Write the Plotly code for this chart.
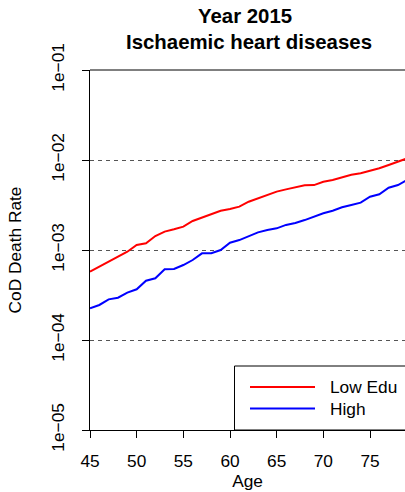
import plotly.graph_objects as go

ages = list(range(45, 80))
low_edu = [5.74e-4, 6.52e-4, 7.41e-4, 8.58e-4, 9.57e-4, 1.137e-3, 1.186e-3, 1.43e-3, 1.60e-3, 1.70e-3,
           1.82e-3, 2.10e-3, 2.29e-3, 2.51e-3, 2.73e-3, 2.85e-3, 3.03e-3, 3.44e-3, 3.75e-3, 4.16e-3,
           4.45e-3, 4.72e-3, 5.01e-3, 5.24e-3, 5.26e-3, 5.74e-3, 6.00e-3, 6.36e-3, 6.87e-3, 7.11e-3,
           7.55e-3, 8.09e-3, 8.80e-3, 9.57e-3, 1.045e-2]
high_edu = [2.25e-4, 2.45e-4, 2.83e-4, 2.95e-4, 3.36e-4, 3.66e-4, 4.56e-4, 4.85e-4, 6.11e-4, 6.16e-4,
            6.81e-4, 7.74e-4, 9.18e-4, 9.20e-4, 1.00e-3, 1.205e-3, 1.29e-3, 1.43e-3, 1.57e-3, 1.67e-3,
            1.74e-3, 1.90e-3, 2.00e-3, 2.15e-3, 2.35e-3, 2.56e-3, 2.73e-3, 2.98e-3, 3.16e-3, 3.36e-3,
            3.91e-3, 4.16e-3, 4.92e-3, 5.27e-3, 6.00e-3]
series_names = ["Low Edu", "High"]
series_colors = ["#FF0000", "#0000FF"]
y_tick_vals = [1e-5, 1e-4, 1e-3, 1e-2, 1e-1]
y_tick_text = ["1e\u221205", "1e\u221204", "1e\u221203", "1e\u221202", "1e\u221201"]
x_tick_vals = [45, 50, 55, 60, 65, 70, 75, 80]
title_lines = ["Year 2015", "Ischaemic heart diseases"]

FONT = "Liberation Sans, Arial, sans-serif"
FS = 17.3

fig = go.Figure()
for name, vals, col in zip(series_names, [low_edu, high_edu], series_colors):
    fig.add_trace(go.Scatter(x=ages, y=vals, mode="lines", name=name,
                             line=dict(color=col, width=2), showlegend=False))

fig.update_layout(
    width=405, height=492,
    margin=dict(l=90, r=0, t=70, b=62),
    paper_bgcolor="white", plot_bgcolor="white",
    font=dict(family=FONT, size=FS, color="black"),
    xaxis=dict(range=[45, 78.75], tickvals=x_tick_vals, ticks="outside", ticklen=7,
               tickcolor="black", showline=True, linecolor="black", linewidth=1,
               showgrid=False, zeroline=False, tickfont=dict(size=FS),
               ticklabelstandoff=8, automargin=False,
               title=dict(text="Age", font=dict(size=FS), standoff=4)),
    yaxis=dict(type="log", range=[-5, -1], tickvals=y_tick_vals, ticktext=y_tick_text,
               tickangle=-90, ticks="outside", ticklen=7, tickcolor="black",
               showline=True, linecolor="black", linewidth=1,
               showgrid=True, gridcolor="#555555", griddash="4px,4px", gridwidth=1,
               zeroline=False, tickfont=dict(size=FS), ticklabelstandoff=11,
               automargin=False,
               title=dict(text="CoD Death Rate", font=dict(size=FS), standoff=22)),
)

# top border of box
fig.add_shape(type="line", xref="paper", yref="paper", x0=0, x1=1.02, y0=1, y1=1,
              line=dict(color="black", width=1))

# titles
fig.add_annotation(text="<b>%s</b>" % title_lines[0], xref="paper", yref="paper",
                   x=(245 - 90) / 315, y=(430 - 16) / 360, showarrow=False,
                   font=dict(size=20.4), xanchor="center", yanchor="middle")
fig.add_annotation(text="<b>%s</b>" % title_lines[1], xref="paper", yref="paper",
                   x=(249 - 90) / 315, y=(430 - 42) / 360, showarrow=False,
                   font=dict(size=20.4), xanchor="center", yanchor="middle")

# legend box
fig.add_shape(type="rect", xref="paper", yref="paper",
              x0=(234.5 - 90) / 315, x1=1.05, y0=0, y1=(430 - 366) / 360,
              line=dict(color="black", width=1), fillcolor="white", layer="above")
for i, (name, col) in enumerate(zip(series_names, series_colors)):
    yp = (430 - (387 + 21.5 * i)) / 360
    fig.add_shape(type="line", xref="paper", yref="paper",
                  x0=(250 - 90) / 315, x1=(315 - 90) / 315, y0=yp, y1=yp,
                  line=dict(color=col, width=2), layer="above")
    fig.add_annotation(text=name, xref="paper", yref="paper", x=(328 - 90) / 315, y=yp,
                       showarrow=False, xanchor="left", yanchor="middle",
                       font=dict(size=FS))

fig.write_html("out.html", config={"displayModeBar": False},
               post_script="document.body.style.margin='0';")
